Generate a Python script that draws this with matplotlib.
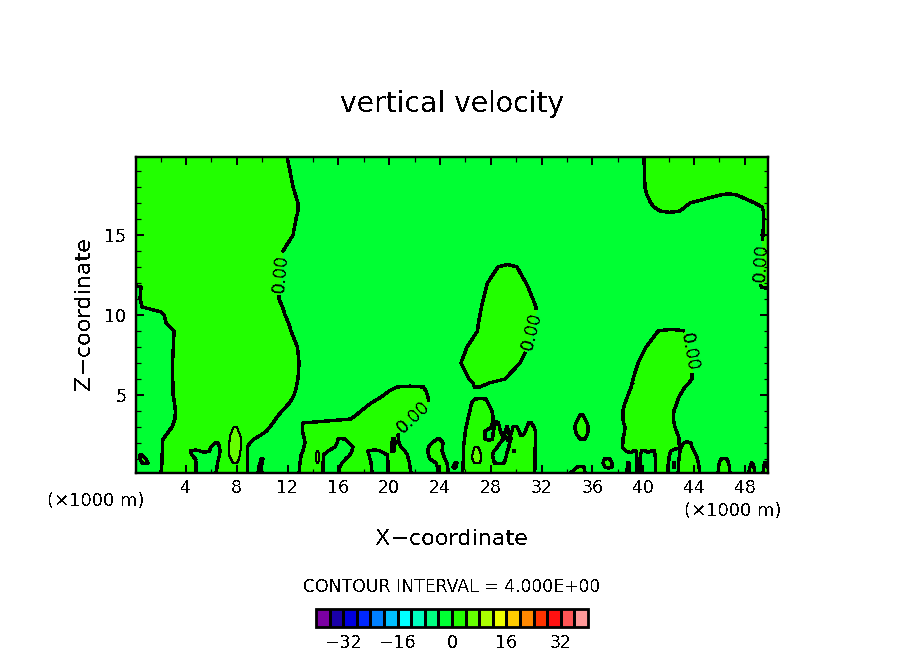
import numpy as np
import matplotlib
matplotlib.use("Agg")
import matplotlib.pyplot as plt
from matplotlib.ticker import MultipleLocator, FixedLocator

plt.rcParams['font.family'] = ['DejaVu Sans']
plt.rcParams['text.antialiased'] = False

# Heights (x1000 m) at which the w = 0 crossings were read
z_rows = [19.9, 19, 18, 17.5, 17, 16.75, 16.5, 16, 15, 14, 13, 12, 11.75, 11, 10.5, 10.2, 10, 9.5, 9, 8, 7, 6,
          5.75, 5.5, 5.25, 5, 4.75, 4.5, 4, 3.75, 3.5, 3.25, 3, 2.75, 2.5, 2.25, 2, 1.75, 1.5, 1.25, 1, .75, .5, .1]

# For each height, x ranges (x1000 m) where w > 0
positive_ranges = [
 [(-1,11.95),(40.06,51)],
 [(-1,12.19),(40.1,51)],
 [(-1,12.43),(40.14,51)],
 [(-1,12.62),(40.3,46.05),(47.38,51)],
 [(-1,12.82),(40.6,43.69),(48.8,51)],
 [(-1,12.82),(40.85,43.3),(49.35,51)],
 [(-1,12.82),(41.32,42.9),(49.47,51)],
 [(-1,12.66),(49.5,51)],
 [(-1,12.43),(49.43,51)],
 [(-1,11.64),(49.35,51)],
 [(-1,11.48),(28.57,30.06),(49.27,51)],
 [(-1,11.4),(27.74,30.77),(49.2,51)],
 [(0.46,11.36),(27.66,30.93),(49.3,51)],
 [(0.38,11.32),(27.42,31.32)],
 [(0.54,11.6),(27.27,31.56)],
 [(2.03,11.72),(27.2,31.6)],
 [(2.27,11.8),(27.15,31.48)],
 [(2.43,12.07),(27.03,31.36)],
 [(3.06,12.27),(26.95,31.24),(41.17,43.29)],
 [(3.0,12.78),(26.13,30.93),(40.23,43.53)],
 [(2.94,12.9),(25.65,30.3),(39.6,43.9)],
 [(2.94,12.82),(26.28,29.12),(39.2,43.84)],
 [(2.98,12.74),(26.6,27.86),(39.13,43.6)],
 [(2.98,12.7),(20.6,22.7),(26.7,27.15),(39.06,43.29)],
 [(2.98,12.62),(19.98,22.9),(38.93,43.1)],
 [(2.98,12.5),(19.59,23.0),(38.8,42.9)],
 [(3.05,12.35),(19.12,23.09),(26.76,27.62),(38.7,42.75)],
 [(3.09,12.15),(18.57,23.09),(26.48,27.78),(38.57,42.66)],
 [(3.17,11.56),(17.78,22.74),(26.36,28.1),(38.4,42.42)],
 [(3.15,11.3),(17.4,22.25),(26.28,28.15),(35.03,35.26),(38.4,42.4)],
 [(3.13,11.05),(16.99,21.76),(26.2,28.2),(34.87,35.42),(38.4,42.38)],
 [(3.02,10.85),(13.21,21.43),(26.13,28.13),(28.37,28.6),(30.97,31.21),(34.7,35.58),(38.47,42.44)],
 [(2.9,10.61),(13.17,21.1),(26.05,28.06),(28.29,28.69),(29.24,29.32),(29.75,30.06),(30.85,31.4),(34.62,35.66),(38.57,42.5)],
 [(2.66,10.34),(13.17,20.81),(26.0,27.56),(28.2,28.76),(29.16,29.39),(29.67,30.22),(30.73,31.52),(34.66,35.66),(38.54,42.62)],
 [(2.43,9.9),(13.25,20.7),(25.97,27.56),(28.17,28.88),(29.04,29.47),(29.55,30.34),(30.57,31.52),(34.79,35.58),(38.49,42.74)],
 [(2.19,9.35),(13.33,15.97),(16.5,20.26),(20.44,20.73),(23.76,24.0),(25.93,27.56),(28.13,29.0),(29.28,29.42),(29.6,31.52),(35.03,35.42),(38.4,42.83)],
 [(2.15,6.29),(6.52,9.04),(13.37,15.89),(16.83,20.22),(20.45,20.78),(23.37,24.24),(25.89,28.72),(29.47,31.52),(38.4,42.83),(43.2,43.76)],
 [(2.15,5.97),(6.64,8.84),(13.29,15.73),(17.15,20.2),(20.42,20.93),(23.1,24.2),(25.85,28.53),(29.43,31.5),(38.36,42.85),(43.0,43.84)],
 [(2.15,4.35),(5.1,5.85),(6.68,8.82),(13.21,15.18),(17.07,18.33),(19.28,20.18),(20.38,21.24),(23.02,24.16),(25.85,28.25),(29.31,29.79),(29.87,31.48),(38.65,39.24),(39.47,39.87),(40.18,40.61),(40.89,42.19),(42.9,44.0)],
 [(0.38,0.54),(2.11,4.47),(6.64,8.82),(13.06,14.83),(16.9,18.41),(19.87,21.44),(23.1,24.28),(25.85,28.13),(29.24,31.48),(39.47,39.79),(40.93,42.07),(42.86,44.16)],
 [(0.38,0.85),(2.11,4.74),(6.56,8.82),(9.9,10.06),(13.02,14.83),(16.57,18.49),(19.88,21.52),(23.2,24.39),(25.85,28.2),(29.16,31.48),(36.95,37.38),(39.51,39.75),(40.97,42.03),(42.82,44.28),(46.1,46.6)],
 [(0.54,1.01),(2.11,4.79),(6.48,8.82),(9.83,9.98),(12.98,14.79),(16.29,18.57),(19.91,21.6),(23.68,24.55),(25.18,25.34),(25.81,28.29),(29.04,31.48),(36.83,37.54),(38.76,38.9),(39.51,39.75),(40.97,41.99),(42.38,42.48),(42.78,44.35),(46.0,46.72),(48.53,48.6),(49.55,49.7)],
 [(2.07,4.79),(6.44,8.82),(9.74,9.94),(12.94,14.79),(16.13,18.6),(19.91,21.64),(23.8,24.59),(25.02,25.26),(25.81,31.48),(34.8,35.35),(37.0,37.54),(38.76,38.9),(39.51,39.75),(40.97,41.95),(42.38,42.48),(42.78,44.4),(45.93,46.8),(48.41,48.73),(49.5,49.8)],
 [(2.03,4.79),(6.36,8.82),(9.67,9.98),(12.9,14.79),(15.97,18.65),(19.91,21.72),(23.84,24.67),(25.77,31.44),(34.24,35.42),(38.7,38.95),(39.51,39.75),(40.97,41.95),(42.75,44.47),(45.9,46.83),(48.29,48.8),(49.43,51)],
]

# x ranges where w > 4, by height
strong_ranges = {
 3:    [(7.75,8.0)],
 2.75: [(7.62,8.12)],
 2.5:  [(7.5,8.27)],
 2.25: [(7.46,8.33)],
 2:    [(7.39,8.33)],
 1.75: [(7.35,8.33),(26.72,27.0)],
 1.5:  [(7.35,8.29),(14.32,14.39),(26.63,27.15)],
 1.25: [(7.39,8.25),(14.22,14.49),(26.56,27.23)],
 1:    [(7.54,8.17),(14.2,14.51),(26.56,27.23)],
 .75:  [(7.7,8.02),(14.32,14.39),(26.68,27.15)],
}

contour_levels = np.arange(-40, 41, 4)
palette = ['#7b00a3', '#1a00a8', '#0000e0', '#0028ff', '#0080ff', '#00c0ff', '#00ffff', '#00ffc0', '#00ff80', '#00ff33',
           '#22ff00', '#66ff00', '#aaff00', '#eeff00', '#ffcc00', '#ff8800', '#ff3300', '#ff1111', '#ff5555', '#ff9999']
x_major = np.arange(4, 49, 4)
z_major = [5, 10, 15]
colorbar_ticks = [-32, -16, 0, 16, 32]
label_points = [(11.4, 12.6), (21.95, 3.56), (31.16, 9.0), (43.7, 7.7), (49.1, 13.3)]

x_fine = np.arange(-0.2, 50.2, 0.04)


def signed_distance(ranges):
    if not ranges:
        return np.full_like(x_fine, -99.0)
    return np.max([np.minimum(x_fine - a, b - x_fine) for a, b in ranges], axis=0)


rows = []
for z, ranges in zip(z_rows, positive_ranges):
    w = 0.8 * np.clip(signed_distance(ranges), -4, 4)
    s = signed_distance(strong_ranges.get(z, []))
    rows.append(np.where(s > -0.25, np.maximum(w, 4 + s), w))
order = np.argsort(z_rows)
field = np.array(rows)[order]
z_sorted = np.array(z_rows)[order]

W, H = 904, 654
fig = plt.figure(figsize=(W / 100, H / 100), dpi=100)
ax = fig.add_axes([136 / W, 1 - 473 / H, 632 / W, 316 / H])
px = 0.72

filled = ax.contourf(x_fine, z_sorted, field, levels=contour_levels, colors=palette, antialiased=False)
lines = ax.contour(x_fine, z_sorted, field, levels=[0, 4], colors='k', linewidths=[2.4 * px, 1.0 * px], antialiased=False)
ax.clabel(lines, levels=[0], inline=True, inline_spacing=3, fmt='%.2f', fontsize=12.5, manual=label_points)

ax.set_xlim(0.063, 49.83)
ax.set_ylim(0.125, 19.875)
ax.xaxis.set_major_locator(FixedLocator(x_major))
ax.xaxis.set_minor_locator(MultipleLocator(2))
ax.yaxis.set_major_locator(FixedLocator(z_major))
ax.yaxis.set_minor_locator(MultipleLocator(1))
ax.tick_params(which='major', direction='in', top=True, right=True, length=8 * px, width=2 * px, labelsize=12.5)
ax.tick_params(axis='x', which='major', pad=4.5)
ax.tick_params(axis='y', which='major', pad=7)
ax.tick_params(which='minor', direction='in', top=True, right=True, length=4.5 * px, width=1.2 * px)
for s in ax.spines.values():
    s.set_linewidth(2.4 * px)


def put(x, y, text, size, **kw):
    fig.text(x / W, 1 - y / H, text, fontsize=size, ha='center', va='center', **kw)


put(452, 104, 'vertical velocity', 20.3)
put(452, 539, 'X\u2212coordinate', 16)
put(84, 314, 'Z\u2212coordinate', 16, rotation=90)
put(96, 501, '(\u00d71000 m)', 13)
put(733, 511, '(\u00d71000 m)', 13)
put(452, 587, 'CONTOUR INTERVAL = 4.000E+00', 12.4)

cax = fig.add_axes([316 / W, 1 - 627 / H, 272 / W, 18 / H])
cb = fig.colorbar(filled, cax=cax, orientation='horizontal', drawedges=True, ticks=colorbar_ticks)
cb.dividers.set_linewidth(3 * px)
cb.dividers.set_color('k')
cb.outline.set_linewidth(2.8 * px)
cb.ax.minorticks_off()
cb.ax.tick_params(length=0, labelsize=12.5, pad=5)

fig.savefig('out.png', dpi=100)
